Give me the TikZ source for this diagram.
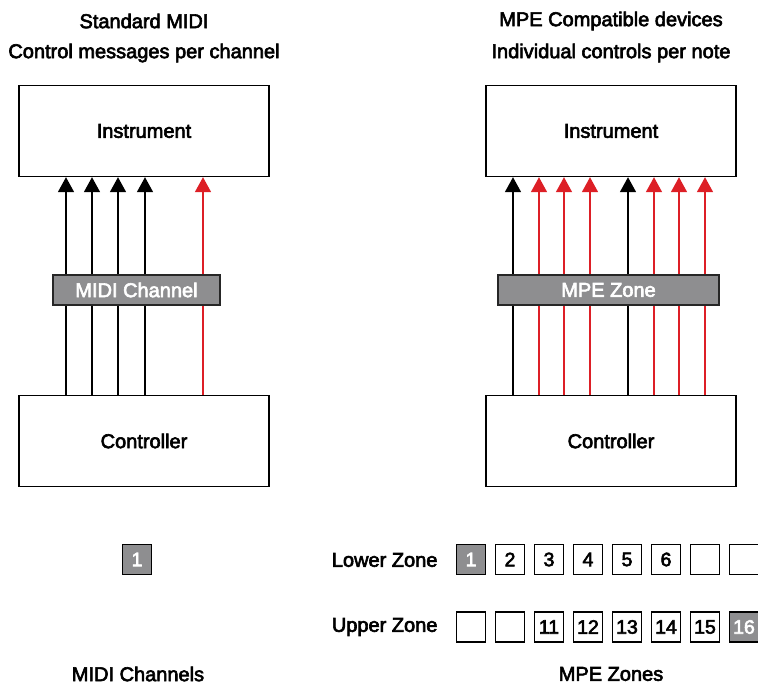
\documentclass[tikz,border=0pt]{standalone}
\usepackage{fontspec}
\setmainfont{Liberation Sans}[FakeBold=3]
\usetikzlibrary{arrows.meta}
\definecolor{bargray}{HTML}{8E8E90}
\definecolor{arrred}{HTML}{DD1F26}
\newcommand{\mytxt}{\fontsize{20}{22}\selectfont}
\tikzset{
  txt/.style={font=\mytxt},
  bigbox/.style={draw=black, line width=1.4pt, minimum width=250pt, minimum height=91pt, font=\mytxt},
  bar/.style={draw=black!85, line width=1.4pt, fill=bargray, text=white, font=\mytxt},
  chbox/.style={draw=black, line width=1.2pt, fill=white, minimum width=29pt, minimum height=30pt, inner sep=0pt, font=\fontsize{19.5}{21}\selectfont},
  chgray/.style={chbox, fill=bargray, text=white},
  arrb/.style={line width=1.7pt, -{Triangle[width=16pt,length=15pt]}},
  arrr/.style={arrb, draw=arrred},
}
\begin{document}
\begin{tikzpicture}[x=1pt,y=-1pt]
\clip (0,0) rectangle (758,684);
\useasboundingbox (0,0) rectangle (758,684);
% titles
\node[txt] (t1) at (144,21) {Standard MIDI};
\node[txt] (t2) at (144,53) {Control messages per channel};
\node[txt] (t3) at (611,21) {MPE Compatible devices};
\node[txt] (t4) at (611,53) {Individual controls per note};
% boxes
\node[bigbox] (instL) at (144,131) {Instrument};
\node[bigbox] (ctrlL) at (144,441) {Controller};
\node[bigbox] (instR) at (611,131) {Instrument};
\node[bigbox] (ctrlR) at (611,441) {Controller};
% left arrows
\foreach \x in {66,92,118,145} \draw[arrb] (ctrlL.north -| \x,0) -- (instL.south -| \x,0);
\draw[arrr] (ctrlL.north -| 203,0) -- (instL.south -| 203,0);
% right arrows
\foreach \x in {513,628} \draw[arrb] (ctrlR.north -| \x,0) -- (instR.south -| \x,0);
\foreach \x in {539,564,590,654,679,705} \draw[arrr] (ctrlR.north -| \x,0) -- (instR.south -| \x,0);
% bars
\node[bar, minimum width=167pt, minimum height=30pt] (barL) at (136.5,290) {MIDI Channel};
\node[bar, minimum width=221pt, minimum height=30pt] (barR) at (608.5,290) {MPE Zone};
% left channel
\node[chgray] (c1) at (137,559.5) {1};
\node[txt] (lblL) at (138,674) {MIDI Channels};
% zones
\node[txt, anchor=east] (lz) at (441,560) {Lower Zone};
\node[txt, anchor=east] (uz) at (441,627) {Upper Zone};
\node[chgray] (l1) at (471,559.5) {1};
\foreach \i/\t [evaluate=\i as \xx using 471+39*(\i-1)] in {2/2,3/3,4/4,5/5,6/6,7/,8/}
  \node[chbox] (l\i) at (\xx,559.5) {\t};
\foreach \i/\t [evaluate=\i as \xx using 471+39*(\i-1)] in {1/,2/,3/11,4/12,5/13,6/14,7/15}
  \node[chbox] (u\i) at (\xx,627) {\t};
\node[chgray] (u8) at (744,627) {16};
\node[txt] (lblR) at (611,674) {MPE Zones};
\end{tikzpicture}
\end{document}
